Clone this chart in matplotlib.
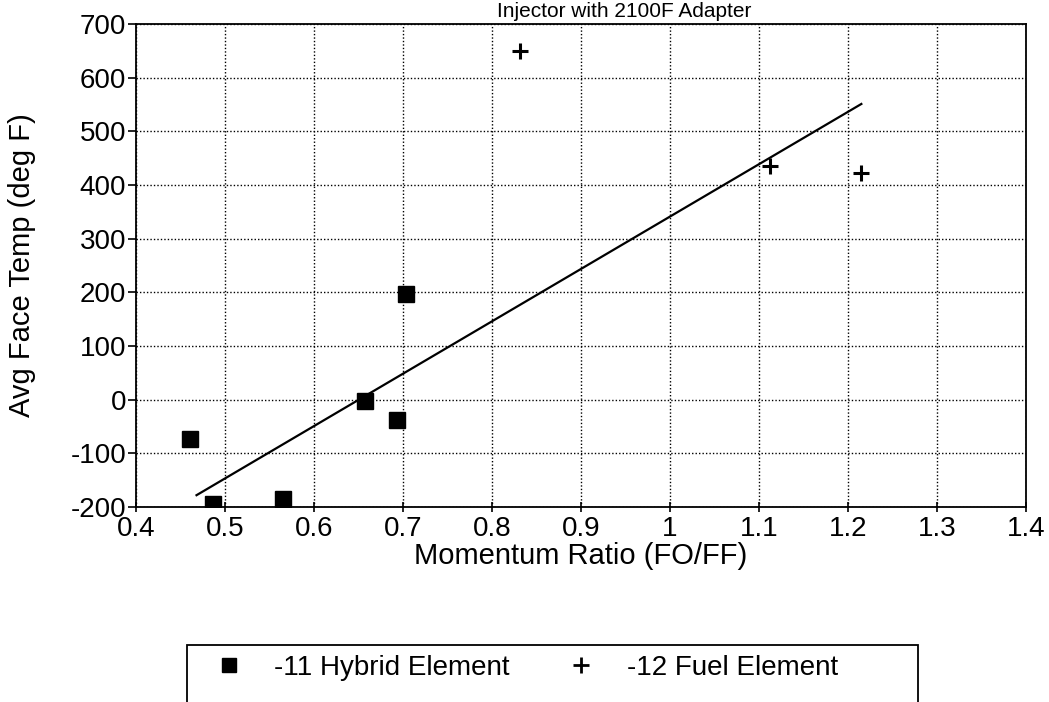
import matplotlib
matplotlib.use("Agg")
import matplotlib.pyplot as plt
from matplotlib.lines import Line2D
from matplotlib.patches import Rectangle

plt.rcParams['font.family'] = ['Liberation Sans', 'DejaVu Sans']
plt.rcParams['axes.unicode_minus'] = False

hybrid_x = [0.461, 0.487, 0.565, 0.657, 0.693, 0.703]
hybrid_y = [-73, -195, -185, -3, -38, 196]
fuel_x = [0.832, 1.112, 1.215]
fuel_y = [650, 435, 422]
fit_x = [0.468, 1.215]
fit_y = [-178, 551]
x_ticks = [0.4, 0.5, 0.6, 0.7, 0.8, 0.9, 1.0, 1.1, 1.2, 1.3, 1.4]
x_tick_labels = ['0.4', '0.5', '0.6', '0.7', '0.8', '0.9', '1', '1.1', '1.2', '1.3', '1.4']
y_ticks = [-200, -100, 0, 100, 200, 300, 400, 500, 600, 700]

W, H = 1049, 702
fig = plt.figure(figsize=(W / 100, H / 100), dpi=100)
ax = fig.add_axes([136 / W, 1 - 507 / H, 890 / W, 483 / H])

ax.plot(fit_x, fit_y, color='black', lw=1.6, zorder=3)
ax.plot(hybrid_x, hybrid_y, linestyle='none', marker='s', markersize=11,
        color='black', zorder=4)
ax.plot(fuel_x, fuel_y, linestyle='none', marker='+', markersize=11,
        markeredgewidth=2.2, color='black', zorder=4)

ax.set_xlim(0.4, 1.4)
ax.set_ylim(-200, 700)
ax.set_xticks(x_ticks)
ax.set_xticklabels(x_tick_labels)
ax.set_yticks(y_ticks)
ax.grid(True, color='black', linestyle=(0, (1, 1.5)), linewidth=1.0)
ax.tick_params(axis='y', labelsize=20, direction='out', length=6, width=1.2, pad=1)
ax.tick_params(axis='x', labelsize=20, direction='inout', length=7, width=1.2, pad=3)
for s in ax.spines.values():
    s.set_linewidth(1.3)

ax.set_xlabel('Momentum Ratio (FO/FF)', fontsize=21, labelpad=0)
ax.set_ylabel('Avg Face Temp (deg F)', fontsize=21)
ax.yaxis.set_label_coords(-0.112, 0.5)

fig.text(624 / W, 1 - 2 / H, 'Injector with 2100F Adapter', fontsize=15,
         ha='center', va='top')

# legend
fig.patches.append(Rectangle((187 / W, -0.02), (918 - 187) / W, 0.02 + (H - 645) / H,
                             transform=fig.transFigure, fill=False,
                             edgecolor='black', linewidth=1.3))
handles = [
    Line2D([], [], linestyle='none', marker='s', markersize=10, color='black'),
    Line2D([], [], linestyle='none', marker='+', markersize=11,
           markeredgewidth=2, color='black'),
]
leg = fig.legend(handles, ['-11 Hybrid Element', '-12 Fuel Element'],
                 loc='center left', bbox_to_anchor=(198 / W, 1 - 668 / H), ncol=2,
                 fontsize=20, frameon=False, handlelength=2.2,
                 columnspacing=1.45, borderpad=0.0, borderaxespad=0,
                 handletextpad=0.55)

fig.savefig('out.png', dpi=100)
